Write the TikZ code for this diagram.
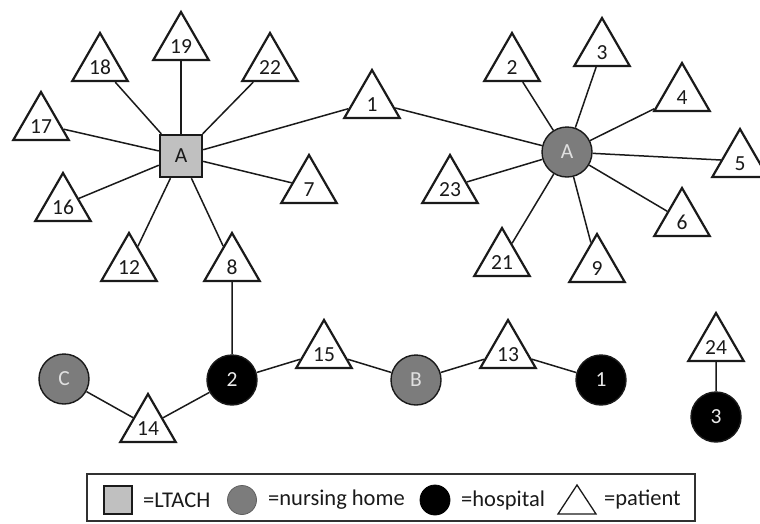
\documentclass[tikz,border=0pt]{standalone}
\usepackage{fontspec}
\setmainfont{Carlito}
\usetikzlibrary{shapes.geometric}
\definecolor{ltach}{HTML}{C0C0C0}
\definecolor{nhome}{HTML}{7C7C7C}
\definecolor{ink}{HTML}{1A1A1A}
\begin{document}
\begin{tikzpicture}[x=1pt,y=-1pt,
  lbl/.style={font=\fontsize{21.5}{25}\selectfont},
  pat/.style={lbl, regular polygon, regular polygon sides=3, draw=ink, line width=2.2pt,
    fill=white, minimum size=64pt, inner sep=0pt, text height=19pt, text depth=0pt, text=ink},
  lt/.style={lbl, rectangle, draw=ink, line width=2.4pt, fill=ltach, minimum size=42pt, inner sep=0pt, text=ink},
  nh/.style={lbl, circle, draw=ink, line width=1.4pt, fill=nhome, minimum size=50pt, inner sep=0pt, text=white!88!black},
  hosp/.style={lbl, circle, draw=ink, line width=1.4pt, fill=black, minimum size=50pt, inner sep=0pt, text=white!92!black},
  link/.style={draw=ink, line width=1.5pt},
  legtxt/.style={font=\fontsize{22.5}{26}\selectfont, anchor=west, inner sep=0pt, text=ink}
]
\useasboundingbox (0,0) rectangle (760,523);
\clip (0,0) rectangle (760,523);

% left cluster
\node[lt] (LA) at (181,156) {A};
\node[pat] (p19) at (181,44) {19};
\node[pat] (p18) at (100,65) {18};
\node[pat] (p22) at (270,65) {22};
\node[pat] (p17) at (41,124) {17};
\node[pat] (p16) at (63,205) {16};
\node[pat] (p12) at (129,265) {12};
\node[pat] (p8) at (232,265) {8};
\node[pat] (p7) at (309,187) {7};
\node[pat] (p1) at (372,102) {1};

% right cluster
\node[nh] (NA) at (567,152) {A};
\node[pat] (p2) at (512,65) {2};
\node[pat] (p3) at (602,50) {3};
\node[pat] (p4) at (682,95) {4};
\node[pat] (p5) at (740,161) {5};
\node[pat] (p23) at (450,187) {23};
\node[pat] (p21) at (502,260) {21};
\node[pat] (p9) at (597,266) {9};
\node[pat] (p6) at (682,220) {6};

% bottom row
\node[nh] (NC) at (64,379) {C};
\node[hosp] (H2) at (232,380) {2};
\node[nh] (NB) at (416,380) {B};
\node[hosp] (H1) at (601,380) {1};
\node[hosp] (H3) at (716,417) {3};
\node[pat] (p14) at (148,426) {14};
\node[pat] (p15) at (324,352) {15};
\node[pat] (p13) at (508,352) {13};
\node[pat] (p24) at (716,345) {24};

% connectors
\foreach \t in {p19,p18,p22,p17,p16,p12,p8,p7,p1}
  \draw[link] (LA) -- (\t);
\foreach \t in {p1,p2,p3,p4,p5,p6,p9,p21,p23}
  \draw[link] (NA) -- (\t);
\draw[link] (p8) -- (H2);
\draw[link] (NC) -- (p14);
\draw[link] (p14) -- (H2);
\draw[link] (H2) -- (p15);
\draw[link] (p15) -- (NB);
\draw[link] (NB) -- (p13);
\draw[link] (p13) -- (H1);
\draw[link] (p24) -- (H3);

% legend
\draw[draw=ink!90, line width=1.5pt] (87,474) rectangle (695,521);
\node[rectangle, draw=ink, line width=1.2pt, fill=ltach, minimum size=28pt, inner sep=0pt] (kL) at (118,500) {};
\node[legtxt] (tL) at (143,500) {=LTACH};
\node[circle, draw=ink!70, line width=0.8pt, fill=nhome, minimum size=29pt, inner sep=0pt] (kN) at (242,500) {};
\node[legtxt] (tN) at (268,500) {=nursing home};
\node[circle, draw=black, line width=0.8pt, fill=black, minimum size=30pt, inner sep=0pt] (kH) at (435,500) {};
\node[legtxt] (tH) at (461,500) {=hospital};
\draw[draw=ink, line width=1.3pt, line join=miter] (558,514) -- (577,485) -- (596,514) -- cycle;
\node[legtxt] (tP) at (604,500) {=patient};
\end{tikzpicture}
\end{document}
